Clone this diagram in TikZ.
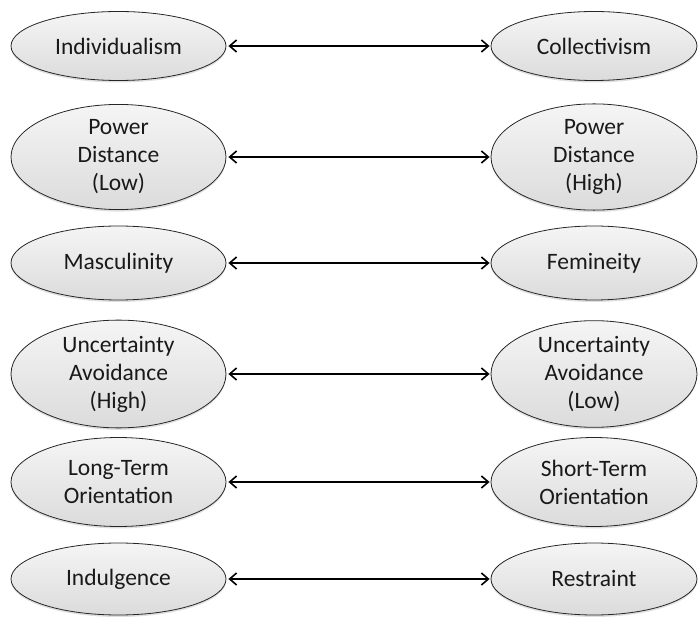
\documentclass[tikz,border=0pt]{standalone}
\usepackage{fontspec}
\setmainfont{Carlito}
\usetikzlibrary{shapes.geometric,arrows.meta,shadows}
\begin{document}
\begin{tikzpicture}[x=1pt,y=-1pt,
  oval/.style={ellipse, draw=black!85, line width=0.8pt, inner sep=0pt,
    top color=gray!8, bottom color=gray!28, align=center,
    font=\fontsize{23.5}{28}\selectfont, text=black!90,
    drop shadow={shadow xshift=0pt, shadow yshift=-2pt, opacity=0.25}},
  lo/.style={oval, minimum width=215, minimum height=#1},
  ro/.style={oval, minimum width=206, minimum height=#1},
  link/.style={{Straight Barb[length=7pt,width=12pt,line width=1.6pt]}-{Straight Barb[length=7pt,width=12pt,line width=1.6pt]}, line width=2pt, shorten <=2pt, shorten >=1pt}]
\useasboundingbox (0,0) rectangle (699,617);
\node[lo=69] (l1) at (118.5,46) {Individualism};
\node[ro=69] (r1) at (594,46) {Collectivism};
\node[lo=92] (l2) at (118.5,157) {Power\\Distance\\(Low)};
\node[ro=92] (r2) at (594,157) {Power\\Distance\\(High)};
\node[lo=74] (l3) at (118.5,263) {Masculinity};
\node[ro=74] (r3) at (594,263) {Femineity};
\node[lo=96] (l4) at (118.5,374) {Uncertainty\\Avoidance\\(High)};
\node[ro=96] (r4) at (594,374) {Uncertainty\\Avoidance\\(Low)};
\node[lo=89] (l5) at (118.5,482) {Long-Term\\Orientation};
\node[ro=89] (r5) at (594,482) {Short-Term\\Orientation};
\node[lo=72] (l6) at (118.5,579) {Indulgence};
\node[ro=72] (r6) at (594,579) {Restraint};
\foreach \i in {1,...,6} \draw[link] (l\i.east) -- (r\i.west);
\end{tikzpicture}
\end{document}
